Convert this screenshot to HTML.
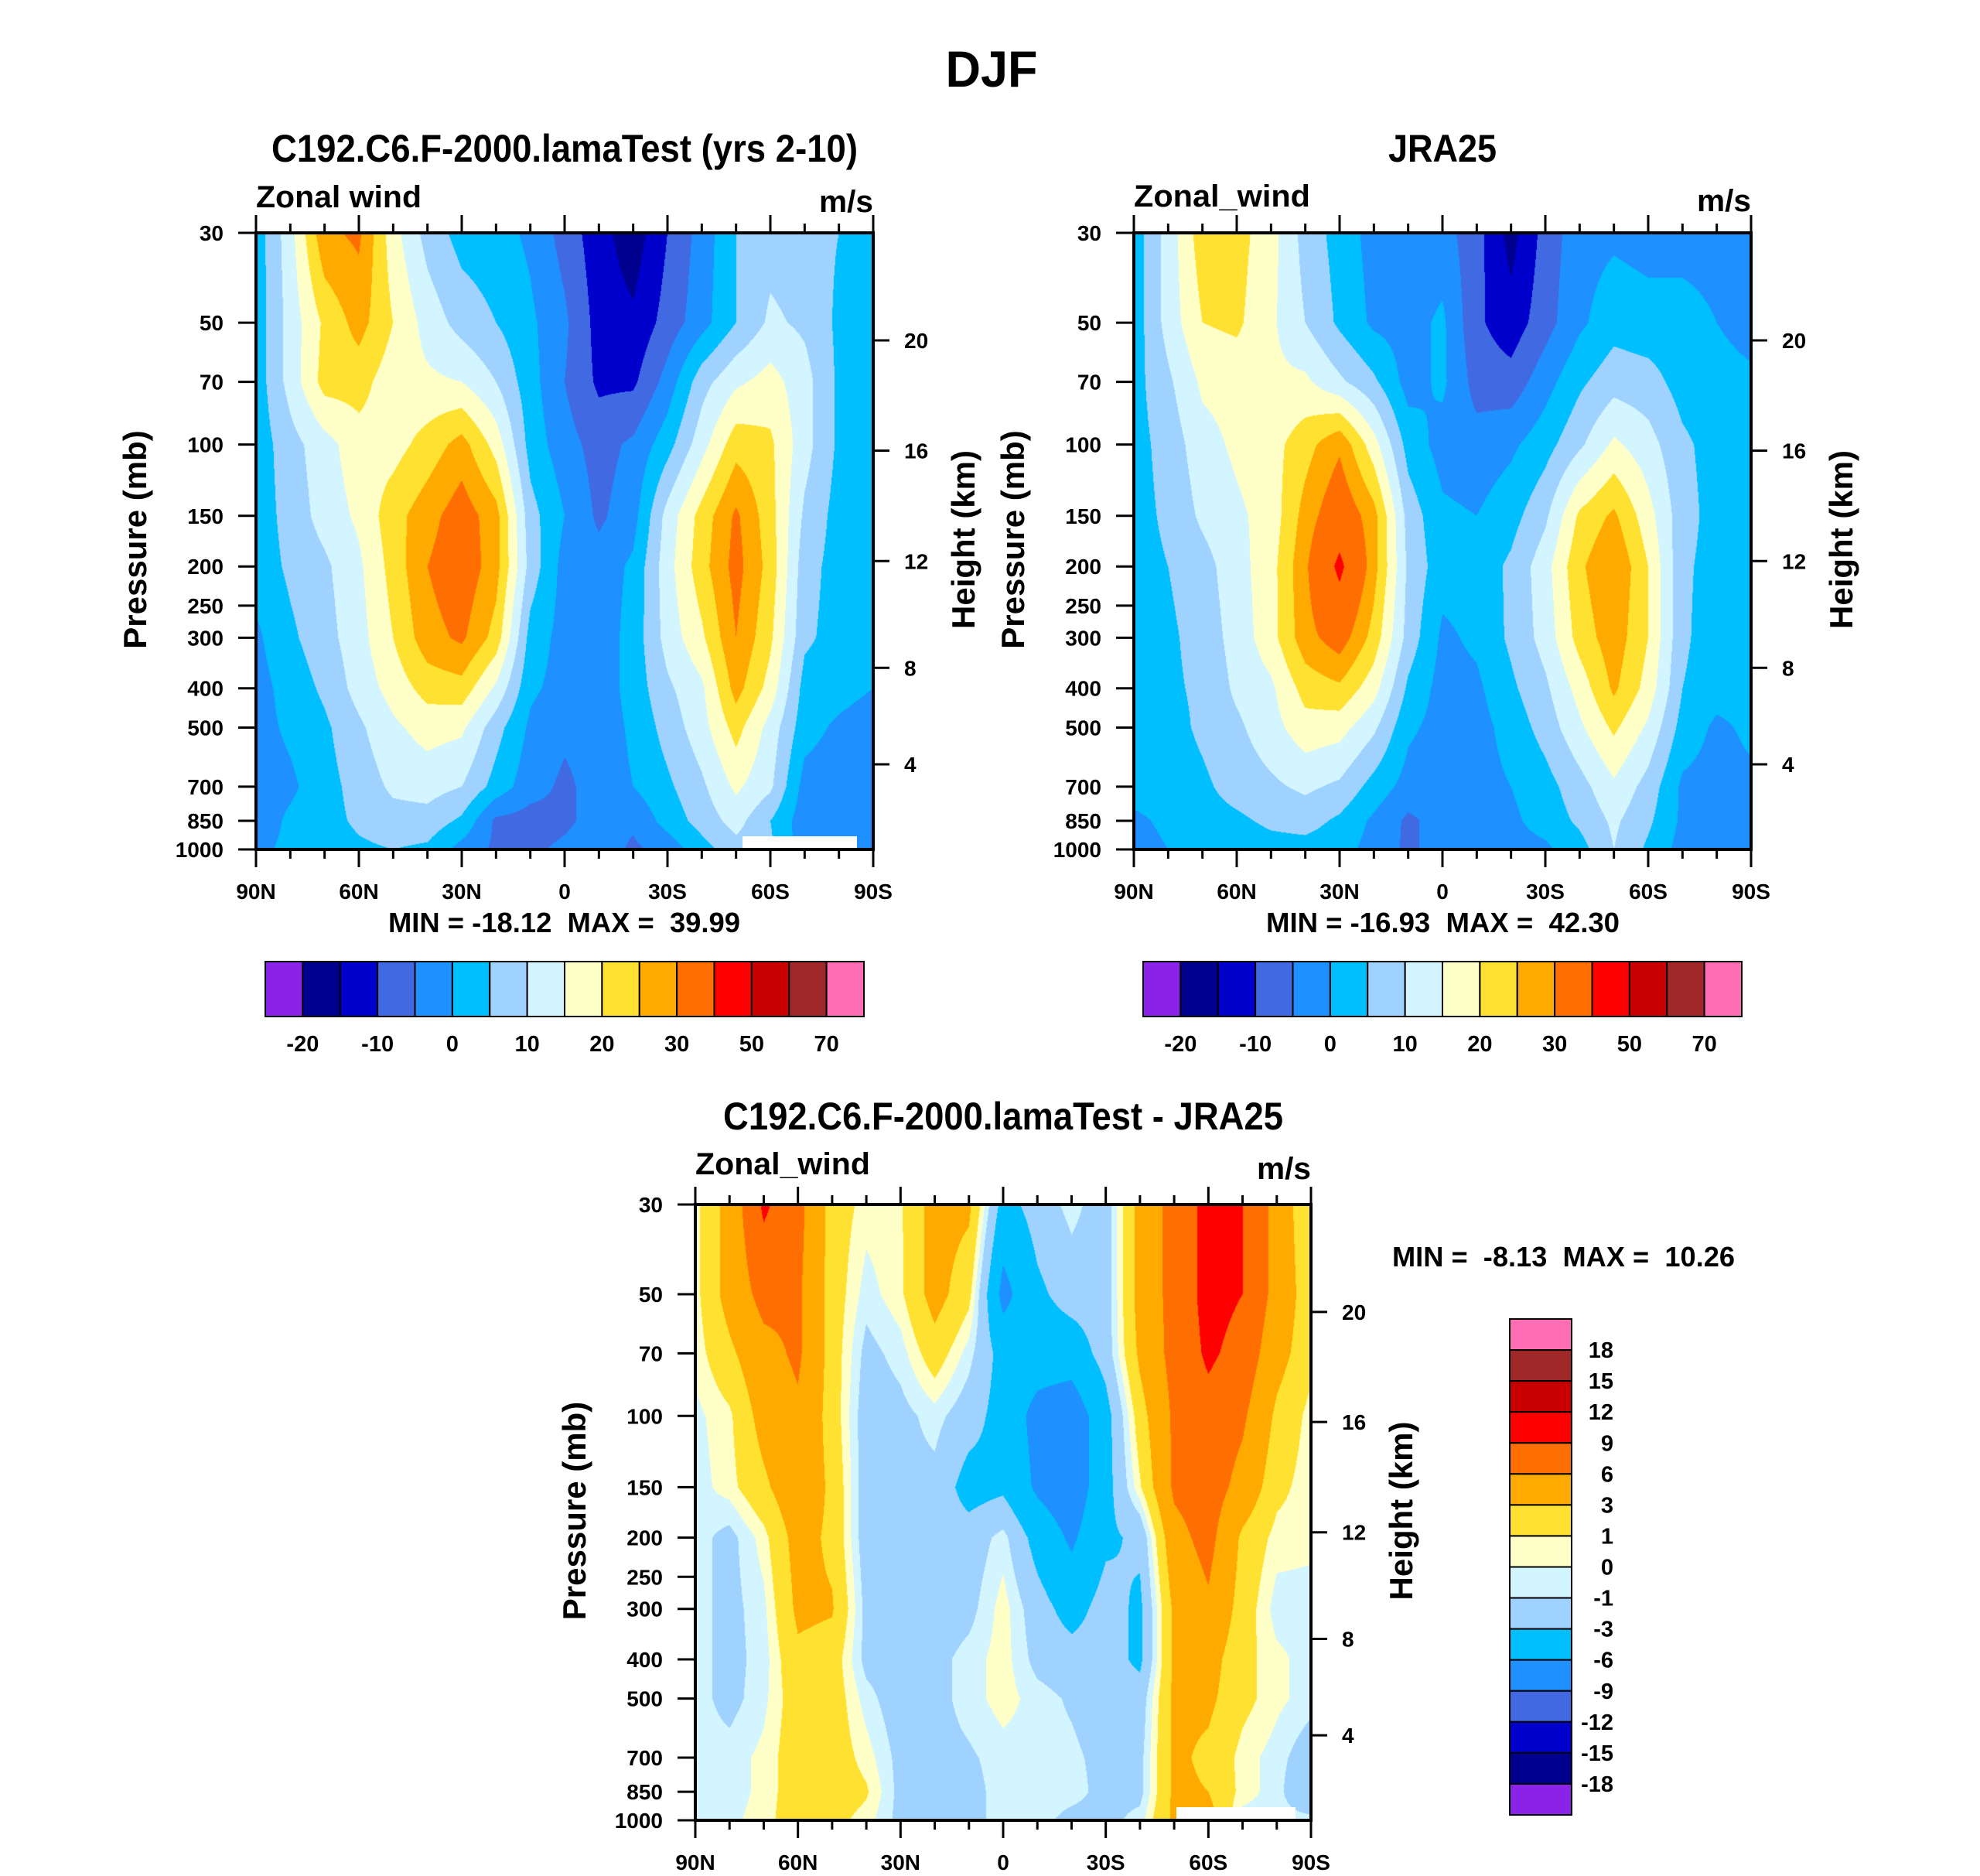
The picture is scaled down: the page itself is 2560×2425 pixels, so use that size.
<!DOCTYPE html>
<html><head><meta charset="utf-8">
<style>
html,body{margin:0;padding:0;background:#fff;}
#root{position:relative;width:2560px;height:2425px;overflow:hidden;background:#fff;}
canvas{position:absolute;}
svg{position:absolute;left:0;top:0;}
text{font-family:"Liberation Sans",sans-serif;font-weight:bold;fill:#000;}
</style></head>
<body>
<div id="root">
<canvas id="c1"></canvas>
<canvas id="c2"></canvas>
<canvas id="c3"></canvas>
<svg id="ov" width="2560" height="2425"></svg>
</div>
<script>
const lats=[90,80,70,60,50,40,30,20,10,0,-10,-20,-30,-40,-50,-60,-70,-80,-90];
const plevs=[30,50,70,100,150,200,300,400,500,700,850,1000];
const modelU=[
[2,13,29,31,17,8,3,2,-1,-7,-13,-18,-10,-3,5,8,7,5,3],
[2,12,21,27,20,13,8,5,1,-4,-12,-14,-8,-2,5,11,9,4,3],
[2,12,22,22,17,16,15,10,2,-5,-11,-11,-3,8,14,17,12,4,3],
[2,8,13,18,18,22,27,18,3,-3,-7,-4,3,13,23,21,12,4,3],
[2,7,12,16,23,28,33,27,7,0,-6,-2,12,22,31,22,9,3,3],
[2,6,9,14,22,30,34,27,8,-2,-3,1,13,23,32,23,7,3,3],
[-1,4,8,13,20,28,31,23,3,-2,-3,2,12,19,30,21,6,3,3],
[-2,2,6,12,17,22,23,14,1,-2,-3,2,9,14,27,18,3,2,0],
[-2,1,4,9,14,17,16,7,-1,-4,-3,1,7,13,22,13,2,-1,-3],
[-3,-1,3,7,11,12,10,3,-3,-6,-3,0,4,9,16,11,-2,-3,-4],
[-3,1,3,6,8,8,4,-6,-7,-6,-3,-4,2,7,12,5,-3,-4,-4],
[-1,1,2,4,5,4,-2,-6,-6,-4,-2,-6,-3,3,8,6,-3,-3,-4]];
const jraU=[
[2,12,23,22,17,8,3,-2,-3,-3,-8,-17,-8,-2,-1,-2,-2,-2,-1],
[2,12,20,21,16,10,4,-1,-2,1,-9,-13,-7,-1,3,2,2,0,-2],
[3,9,16,17,16,16,11,6,-2,1,-7,-8,-2,4,8,7,3,2,1],
[3,7,13,16,18,23,29,17,3,-2,-3,-1,3,9,16,12,6,3,2],
[3,6,11,14,17,27,35,27,8,1,0,3,9,21,26,17,7,3,2],
[3,5,8,13,18,29,42,27,9,2,2,6,13,24,30,20,6,3,2],
[3,4,7,12,18,28,33,23,8,-1,1,6,12,22,28,20,6,2,2],
[3,4,6,11,14,22,24,17,4,-2,-1,4,9,17,26,18,5,2,2],
[3,3,6,9,13,18,17,11,1,-2,-2,2,7,14,21,14,3,-1,1],
[2,2,4,7,9,11,9,3,-2,-3,-2,0,3,8,14,8,-1,-2,-1],
[-1,1,3,4,6,7,4,-1,-6,-3,-2,-1,2,6,11,6,-1,-2,-2],
[-2,0,1,2,3,3,2,-2,-6,-3,-2,-2,-1,3,10,4,-2,-2,-2]];
const diffU=[
[0.5,4,9.5,7,2,0.5,0.8,4,3.5,-4,-2,-0.5,-2,4,7,10,9,5,0.8],
[0.5,4,7,6.5,2,-0.5,0.7,4,1.5,-7,-3.5,-2,-2,4,7,10,9,5,1.5],
[0.3,2.5,5,6.5,2,-1.5,-0.5,2,-0.5,-4,-4.5,-4.5,-2,3.5,7,9.5,8,4,1.5],
[-0.3,0.7,4,5.5,2,-2,-1.5,-0.5,-2,-4,-7,-8,-4,2,6.5,8,6.5,2.5,0.5],
[-0.5,0.5,2.5,5,2.5,-2,-1.5,-1.5,-4,-3.5,-6.5,-8,-4,0.8,6.5,7.5,5,1.5,0.3],
[-0.5,-1.5,0.5,4,2.5,-2,-2,-2,-2,-0.5,-4,-6.5,-3.5,-2.5,5,7,2.5,0.5,0.3],
[-0.5,-1.5,-0.3,3.5,3.2,-1.5,-2,-2,-1.5,0.5,-2,-4,-2,-3.5,3.5,5.5,2,-0.5,-0.5],
[-0.5,-1.5,-0.5,2.5,2,-1.5,-2,-1.5,-0.5,0.5,-1.5,-2,-2,-3.5,3.5,4,1.5,0.3,-0.5],
[-0.5,-1.5,-0.3,2,2,-0.5,-2,-1.5,-0.5,0.5,-0.5,-1.2,-2,-2,3.5,3.5,1.5,0.3,-0.5],
[-0.5,-0.5,0.3,2,2,0.5,-1.5,-1.5,-1.2,-0.5,-0.5,-0.7,-1.5,-1.5,3.5,2.5,0.5,-0.5,-2],
[-0.5,-0.5,0.3,2,2,1.2,-1.5,-1.5,-1.5,-0.5,-0.3,-0.5,-1.5,-1.5,3.5,3,0.5,-0.5,-3],
[-0.5,-0.3,0.5,2,1.5,0.5,-1.5,-1.5,-1.5,-0.5,-0.5,-1.5,-1.5,-0.5,3.5,4,-0.5,-0.5,-0.5]];
const levelsMain=[-20,-15,-10,-5,0,5,10,15,20,25,30,40,50,60,70];
const levelsDiff=[-18,-15,-12,-9,-6,-3,-1,0,1,3,6,9,12,15,18];
const mainCbLabels=['-20','-10','0','10','20','30','50','70'];
const diffCbLabels=['18','15','12','9','6','3','1','0','-1','-3','-6','-9','-12','-15','-18'];
const latTickLabels=['90N','60N','30N','0','30S','60S','90S'];
const pTicks=[30,50,70,100,150,200,250,300,400,500,700,850,1000];
const kmTicks=[4,8,12,16,20];
const kmPress=[616.4,356,194,103.5,55.3];
const palette=['#8a22e8','#00008f','#0000cd','#4169e1','#1e90ff','#00bfff','#a0d2ff','#d2f5ff','#ffffc8','#ffe132','#ffaa00','#ff6e00','#ff0000','#c80000','#a02828','#ff6eb4'];

const NS='http://www.w3.org/2000/svg';
const ov=document.getElementById('ov');
function mk(tag,attrs,parent){const e=document.createElementNS(NS,tag);for(const k in attrs)e.setAttribute(k,attrs[k]);(parent||ov).appendChild(e);return e;}
function txt(s,x,y,size,anchor,len,parent){
  const e=mk('text',{x:x,y:y,'font-size':size,'text-anchor':anchor||'start'},parent);
  e.setAttribute('xml:space','preserve');e.style.whiteSpace='pre';
  if(len){e.setAttribute('textLength',len);e.setAttribute('lengthAdjust','spacingAndGlyphs');}
  e.textContent=s;return e;}
function hexRgb(h){return [parseInt(h.substr(1,2),16),parseInt(h.substr(3,2),16),parseInt(h.substr(5,2),16)];}
const palRgb=palette.map(hexRgb);

function makeAxes(x0,y0,W,H){
  const lr=Math.log(1000/30);
  return {x:lat=>x0+(90-lat)/180*W, y:p=>y0+Math.log(p/30)/lr*H};
}

function drawField(canvasId,data,levels,x0,y0,W,H){
  const ax=makeAxes(x0,y0,W,H);
  const cv=document.getElementById(canvasId);
  cv.width=W;cv.height=H;cv.style.left=x0+'px';cv.style.top=y0+'px';
  const ctx=cv.getContext('2d');const img=ctx.createImageData(W,H);
  const rowY=plevs.map(p=>ax.y(p)-y0);
  const colX=lats.map(l=>ax.x(l)-x0);
  let r=0;
  for(let py=0;py<H;py++){
    const yy=py+0.5;
    while(r<rowY.length-2&&yy>rowY[r+1])r++;
    const ty=Math.min(1,Math.max(0,(yy-rowY[r])/(rowY[r+1]-rowY[r])));
    const A=data[r],B=data[r+1];
    let c=0;
    for(let px=0;px<W;px++){
      const xx=px+0.5;
      while(c<colX.length-2&&xx>colX[c+1])c++;
      const tx=Math.min(1,Math.max(0,(xx-colX[c])/(colX[c+1]-colX[c])));
      const v=(A[c]*(1-tx)+A[c+1]*tx)*(1-ty)+(B[c]*(1-tx)+B[c+1]*tx)*ty;
      let k=0;while(k<levels.length&&v>=levels[k])k++;
      const col=palRgb[k];const o=(py*W+px)*4;
      img.data[o]=col[0];img.data[o+1]=col[1];img.data[o+2]=col[2];img.data[o+3]=255;
    }
  }
  ctx.putImageData(img,0,0);
}

function drawPanel(prefix,x0,y0,W,H,o){
  const ax=makeAxes(x0,y0,W,H);
  const g=mk('g',{});
  
  
  if(o.white){const w=mk('rect',{x:o.white[0],y:o.white[1],width:o.white[2],height:o.white[3],fill:'#fff'},g);
    }
  const fr=mk('rect',{x:x0,y:y0,width:W,height:H,fill:'none',stroke:'#000','stroke-width':4},g);
  
  for(let lat=90;lat>=-90;lat-=10){
    const x=ax.x(lat);const major=(lat%30===0);const L=major?23:12;
    mk('line',{x1:x,y1:y0+H,x2:x,y2:y0+H+L,stroke:'#000','stroke-width':3},g);
    mk('line',{x1:x,y1:y0,x2:x,y2:y0-L,stroke:'#000','stroke-width':3},g);
  }
  latTickLabels.forEach((s,i)=>{const t=txt(s,ax.x(90-i*30),y0+H+64,28,'middle',null,g);
    });
  pTicks.forEach(p=>{const y=ax.y(p);
    mk('line',{x1:x0,y1:y,x2:x0-23,y2:y,stroke:'#000','stroke-width':3},g);
    const t=txt(String(p),x0-42,y+10,28,'end',null,g);
    });
  kmTicks.forEach((k,i)=>{const y=ax.y(kmPress[i]);
    mk('line',{x1:x0+W,y1:y,x2:x0+W+21,y2:y,stroke:'#000','stroke-width':3},g);
    const t=txt(String(k),x0+W+40,y+10,28,'start',null,g);
    });
  const pl=txt('Pressure (mb)',0,0,42,'middle',null,g);
  pl.setAttribute('transform','translate('+(x0-157+15)+','+(y0+H/2-2)+') rotate(-90)');
  
  const hl=txt('Height (km)',0,0,42,'middle',null,g);
  hl.setAttribute('transform','translate('+(x0+W+116+15)+','+(y0+H/2-2)+') rotate(-90)');
  
  const ti=txt(o.title,x0+W/2,o.titleY,50,'middle',o.titleLen,g);
  
  const lt=txt(o.left,x0,o.leftY,40,'start',o.leftLen,g);
  
  const rt=txt('m/s',x0+W,o.leftY+6,40,'end',70,g);
  
  const mm=txt(o.minmax,o.mmX,o.mmY,36,'start',o.mmLen,g);
  
}

function hColorbar(prefix,x0,y0,W,H,labY){
  const g=mk('g',{});
  
  
  const bw=W/palette.length;
  palette.forEach((c,i)=>{const r=mk('rect',{x:x0+i*bw,y:y0,width:bw,height:H,fill:c,stroke:'#000','stroke-width':2},g);
    });
  mainCbLabels.forEach((s,i)=>{const t=txt(s,x0+bw*(1+2*i),labY,29,'middle',null,g);
    });
}
function vColorbar(prefix,x0,y0,W,H,labX){
  const g=mk('g',{});
  
  
  const bh=H/palette.length;
  palette.slice().reverse().forEach((c,i)=>{const r=mk('rect',{x:x0,y:y0+i*bh,width:W,height:bh,fill:c,stroke:'#000','stroke-width':2},g);
    });
  diffCbLabels.forEach((s,i)=>{const t=txt(s,labX,y0+bh*(i+1)+10,29,'end',null,g);
    });
}

drawField('c1',modelU,levelsMain,331,301,798,797);
drawField('c2',jraU,levelsMain,1466,301,798,797);
drawField('c3',diffU,levelsDiff,899,1557,796,796);

const dj=txt('DJF',1282,112,66,'middle',119);



drawPanel('model',331,301,798,797,{title:'C192.C6.F-2000.lamaTest (yrs 2-10)',titleY:209,titleLen:758,left:'Zonal wind',leftY:268,leftLen:214,minmax:'MIN = -18.12  MAX =  39.99',mmX:502,mmY:1205,mmLen:455,white:[960,1081,148,17]});
drawPanel('jra25',1466,301,798,797,{title:'JRA25',titleY:209,titleLen:140,left:'Zonal_wind',leftY:267,leftLen:228,minmax:'MIN = -16.93  MAX =  42.30',mmX:1637,mmY:1205,mmLen:457});
drawPanel('diff',899,1557,796,796,{title:'C192.C6.F-2000.lamaTest - JRA25',titleY:1460,titleLen:724,left:'Zonal_wind',leftY:1518,leftLen:226,minmax:'MIN =  -8.13  MAX =  10.26',mmX:1800,mmY:1637,mmLen:443,white:[1521,2336,154,17]});

hColorbar('model',343,1243,774,71,1359);
hColorbar('jra25',1478,1243,774,71,1359);
vColorbar('diff',1952,1705,80,641,2086);
</script>
</body></html>
